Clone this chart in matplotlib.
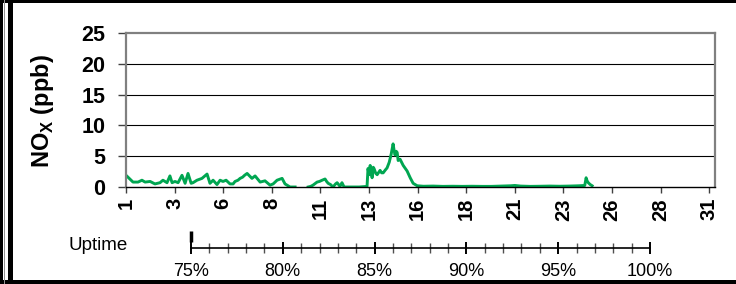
import numpy as np
import matplotlib
matplotlib.use("Agg")
import matplotlib.pyplot as plt
from matplotlib.patches import Rectangle

plt.rcParams["font.family"] = ["Liberation Sans", "DejaVu Sans"]
plt.rcParams["mathtext.fontset"] = "custom"
plt.rcParams["mathtext.rm"] = "Liberation Sans"
plt.rcParams["mathtext.bf"] = "Liberation Sans:bold"

# day of month -> NOx (ppb); nan marks the data gap
days = [1.00, 1.10, 1.36, 1.62, 1.82, 1.98, 2.24, 2.49, 2.75, 2.90, 3.11, 3.26,
        3.37, 3.52, 3.68, 3.88, 4.04, 4.19, 4.35, 4.45, 4.65, 4.91, 5.17, 5.32,
        5.48, 5.68, 5.84, 5.99, 6.15, 6.35, 6.51, 6.61, 6.76, 6.87, 7.00, 7.10,
        7.23, 7.48, 7.64, 7.90, 8.15, 8.41, 8.57, 8.77, 9.03, 9.18, 9.44, 9.70,
        np.nan,
        10.37, 10.50, 10.62, 10.83, 10.95, 11.09, 11.24, 11.32, 11.40, 11.52,
        11.65, 11.78, 11.86, 12.01, 12.11, 12.22, 12.60, 13.00, 13.40, 13.45,
        13.50, 13.56, 13.66, 13.72, 13.76, 13.85, 13.92, 14.07, 14.15, 14.23,
        14.35, 14.43, 14.54, 14.64, 14.74, 14.79, 14.84, 14.90, 14.95, 15.00,
        15.10, 15.26, 15.46, 15.62, 15.77, 15.98, 16.3, 16.8, 17.3, 17.8, 18.3,
        18.8, 19.3, 19.8, 20.3, 20.8, 21.0, 21.3, 21.8, 22.3, 22.8, 23.3, 23.8,
        24.3, 24.6, 24.67, 24.72, 24.78, 24.88, 24.98]
nox = [1.9, 1.6, 0.8, 0.8, 1.1, 0.8, 0.9, 0.5, 0.7, 1.1, 0.7, 1.8,
       0.7, 0.9, 0.7, 1.9, 0.6, 2.2, 0.6, 0.7, 1.1, 1.4, 2.1, 0.6,
       1.1, 0.4, 1.1, 0.9, 1.1, 0.5, 0.5, 0.9, 1.1, 1.4, 1.6, 1.9,
       2.2, 1.4, 1.8, 0.8, 1.0, 0.3, 0.5, 1.1, 1.4, 0.5, 0.0, 0.0,
       np.nan,
       0.0, 0.1, 0.3, 0.8, 0.9, 1.1, 1.3, 0.9, 0.6, 0.4,
       0.0, 0.5, 0.7, 0.1, 0.7, 0.0, 0.0, 0.0, 0.1, 3.0,
       2.0, 3.5, 1.5, 3.2, 3.0, 2.2, 2.0, 2.7, 2.3, 2.3,
       2.8, 3.1, 4.0, 5.3, 7.0, 6.0, 5.2, 5.8, 5.6, 4.3,
       4.5, 3.5, 2.6, 1.5, 0.6, 0.2, 0.12, 0.15, 0.1, 0.12, 0.1,
       0.12, 0.1, 0.1, 0.15, 0.2, 0.25, 0.15, 0.1, 0.12, 0.15, 0.12, 0.15,
       0.2, 0.25, 1.5, 1.0, 0.7, 0.4, 0.2]

tick_pos = [1, 3.5, 6, 8.5, 11, 13.5, 16, 18.5, 21, 23.5, 26, 28.5, 31]
tick_lbl = ["1", "3", "6", "8", "11", "13", "16", "18", "21", "23", "26", "28", "31"]
y_ticks = [0, 5, 10, 15, 20, 25]

uptime = 75.0
uptime_ticks = [75, 80, 85, 90, 95, 100]

W, H = 736, 284
fig = plt.figure(figsize=(W / 100, H / 100), dpi=100)

# frame decoration
fig.add_artist(Rectangle((0, 1 - 3 / H), 1, 3 / H, transform=fig.transFigure, color="black", lw=0))
fig.add_artist(Rectangle((0, 0), 1, 4 / H, transform=fig.transFigure, color="black", lw=0))
fig.add_artist(Rectangle((0, 0), 2.5 / W, 1, transform=fig.transFigure, color="black", lw=0))
fig.add_artist(Rectangle((3.5 / W, 0), 1.2 / W, 1, transform=fig.transFigure, color="#909090", lw=0))
fig.add_artist(Rectangle((7.5 / W, 0), 5 / W, 1, transform=fig.transFigure, color="black", lw=0))

ax = fig.add_axes([126 / W, 1 - 187 / H, 589 / W, 154 / H])
ax.plot(days, nox, color="#00A651", lw=2.1)
ax.set_xlim(1, 31.3)
ax.set_ylim(0, 25)
ax.set_yticks(y_ticks)
for y in y_ticks[1:-1]:
    ax.axhline(y, color="black", lw=0.8, zorder=0)
ax.set_xticks(tick_pos)
ax.set_xticklabels(tick_lbl, rotation=90, fontsize=14.5, fontweight="bold")
ax.set_yticklabels([str(v) for v in y_ticks], fontsize=15.5, fontweight="bold")
ax.tick_params(axis="y", direction="out", length=6, width=1, color="#404040", pad=9)
ax.tick_params(axis="x", direction="out", length=4, width=1, color="#404040", pad=4)
for side in ("top", "right", "left"):
    ax.spines[side].set_color("#808080")
    ax.spines[side].set_linewidth(1.6)
ax.spines["bottom"].set_color("black")
ax.spines["bottom"].set_linewidth(1.0)
fig.text(42 / W, 1 - 111 / H, r"NO$_{\mathbf{X}}$ (ppb)", rotation=90, fontsize=17,
         fontweight="bold", ha="center", va="center")

# uptime scale
ax2 = fig.add_axes([191 / W, 1 - 264 / H, 459 / W, 32 / H])
ax2.set_xlim(75, 100)
ax2.set_ylim(-1, 1)
ax2.patch.set_visible(False)
for side in ("top", "right", "left"):
    ax2.spines[side].set_visible(False)
ax2.spines["bottom"].set_position(("data", 0))
ax2.spines["bottom"].set_linewidth(1.2)
ax2.set_yticks([])
ax2.set_xticks(uptime_ticks)
ax2.set_xticks(np.arange(75, 101, 1), minor=True)
ax2.set_xticklabels([f"{v}%" for v in uptime_ticks], fontsize=13)
ax2.tick_params(axis="x", which="major", direction="inout", length=8, width=1.4, color="black", pad=7)
ax2.tick_params(axis="x", which="minor", direction="inout", length=7, width=1, color="#505050")
ax2.plot([uptime, uptime], [0.4, 1.06], color="black", lw=2.5, solid_capstyle="butt", clip_on=False)
fig.text(68 / W, 1 - 245 / H, "Uptime", fontsize=13.5, ha="left", va="center")

fig.savefig("out.png", dpi=100)
